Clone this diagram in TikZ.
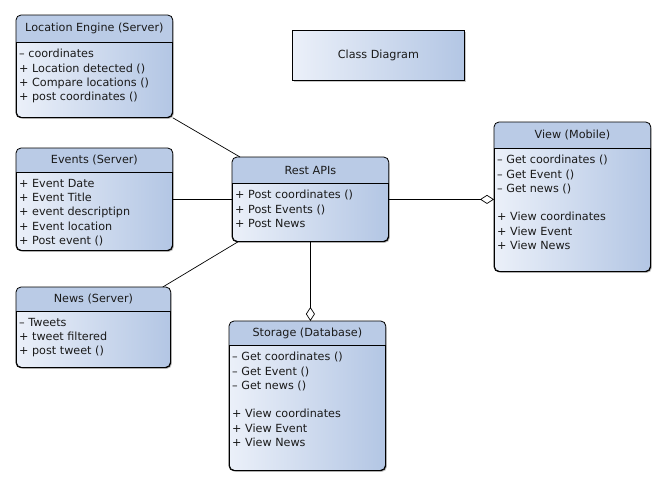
\documentclass[tikz,border=0pt]{standalone}
\usepackage{fontspec}
\setmainfont{DejaVu Sans}
\usetikzlibrary{arrows.meta, calc, shadows}

\definecolor{bodyleft}{HTML}{EBF0F9}
\definecolor{bodyright}{HTML}{B3C6E4}
\definecolor{headfill}{HTML}{BACBE6}
\definecolor{textgray}{HTML}{1A1A1A}

\tikzset{
  classbox/.style={draw=black, line width=0.8pt, rounded corners=5pt, anchor=north west,
    left color=bodyleft, right color=bodyright, inner sep=0pt,
    drop shadow={shadow xshift=1.5pt, shadow yshift=-1.5pt, opacity=0.35, fill=black!60}},
  classtitle/.style={text=textgray, font=\fontsize{11.2}{14}\selectfont, inner sep=0pt},
  classbody/.style={text=textgray, font=\fontsize{11.2}{14.3}\selectfont, align=left,
    inner sep=0pt, anchor=north west},
  link/.style={draw=black, line width=0.7pt},
  aggr/.style={link, -{Diamond[open, length=14pt, width=9pt]}}
}

% class box: name, north west corner, width, height, header height, title, body
\newcommand{\umlclass}[7]{%
  \node[classbox, minimum width=#3pt, minimum height=#4pt] (#1) at (#2) {};
  \begin{scope}
    \clip[rounded corners=5pt] (#1.north west) rectangle (#1.south east);
    \fill[headfill] (#1.north west) rectangle ([yshift=-#5pt]#1.north east);
  \end{scope}
  \draw[line width=0.8pt] ([yshift=-#5pt]#1.north west) -- ([yshift=-#5pt]#1.north east);
  \draw[line width=0.8pt, rounded corners=5pt] (#1.north west) rectangle (#1.south east);
  \node[classtitle] (#1-title) at ($(#1.north)+(0,-#5pt/2)$) {#6};
  \node[classbody] (#1-body) at ($(#1.north west)+(3pt,-#5pt-7pt)$) {#7};
}

\begin{document}
\begin{tikzpicture}[x=1pt, y=1pt, font=\fontsize{11.2}{14}\selectfont]

  \useasboundingbox[fill=white] (0,0) rectangle (670,-501);

  % --- 1. Note ---
  \node[draw=black, line width=0.8pt, anchor=north west, minimum width=172pt, minimum height=50pt,
    left color=bodyleft, right color=bodyright, text=textgray,
    drop shadow={shadow xshift=1.5pt, shadow yshift=-1.5pt, opacity=0.35, fill=black!60}]
    (note) at (292,-30) {Class Diagram};

  % --- 2. Classes ---
  \umlclass{loc}{16,-15}{156}{102}{27}{Location Engine (Server)}
    {– coordinates\\+ Location detected ()\\+ Compare locations ()\\+ post coordinates ()}
  \umlclass{events}{16,-148}{156}{102}{24}{Events (Server)}
    {+ Event Date\\+ Event Title\\+ event descriptipn\\+ Event location\\+ Post event ()}
  \umlclass{news}{16,-287}{154}{80}{24}{News (Server)}
    {– Tweets\\+ tweet filtered\\+ post tweet ()}
  \umlclass{rest}{232,-157}{156}{84}{26}{Rest APIs}
    {+ Post coordinates ()\\+ Post Events ()\\+ Post News}
  \umlclass{view}{494,-122}{156}{149}{26}{View (Mobile)}
    {– Get coordinates ()\\– Get Event ()\\– Get news ()\\\mbox{}\\+ View coordinates\\+ View Event\\+ View News}
  \umlclass{storage}{229,-321}{156}{149}{24}{Storage (Database)}
    {– Get coordinates ()\\– Get Event ()\\– Get news ()\\\mbox{}\\+ View coordinates\\+ View Event\\+ View News}

  % --- 3. Associations ---
  \draw[link] (loc.south east) -- ([xshift=8pt]rest.north west);
  \draw[link] (events.east) -- (events.east -| rest.west);
  \draw[link] ([xshift=-8pt]news.north east) -- ([xshift=6pt]rest.south west);

  % --- 4. Aggregations ---
  \draw[aggr] (rest.east) -- (rest.east -| view.west);
  \draw[aggr] (rest.south) -- (rest.south |- storage.north);

\end{tikzpicture}
\end{document}
